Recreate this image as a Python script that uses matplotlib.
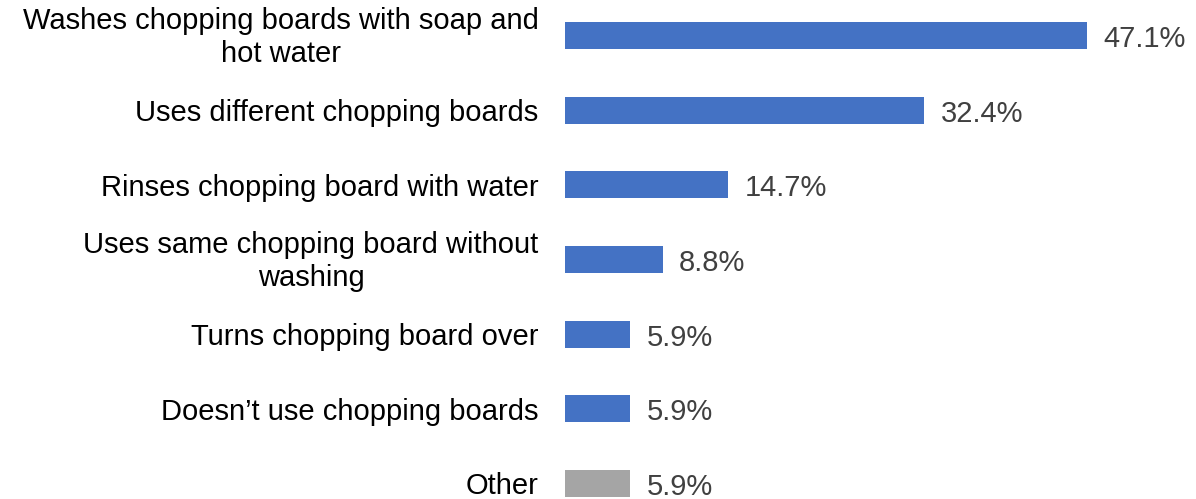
import matplotlib.pyplot as plt

plt.rcParams["font.family"] = ["Liberation Sans", "DejaVu Sans"]

# Chopping board handling practices (% of respondents)
categories = [
    "Washes chopping boards with soap and\nhot water",
    "Uses different chopping boards",
    "Rinses chopping board with water",
    "Uses same chopping board without\nwashing",
    "Turns chopping board over",
    "Doesn\u2019t use chopping boards",
    "Other",
]
values = [47.1, 32.4, 14.7, 8.8, 5.9, 5.9, 5.9]
bar_colors = ["#4472C4"] * 6 + ["#A5A5A5"]

fig = plt.figure(figsize=(11.96, 4.99), dpi=100)
ax = fig.add_axes([565 / 1196, 0.0012, 522 / 1196, 0.9726])

pos = list(range(len(categories)))
ax.barh(pos, values, height=0.36, color=bar_colors)

ax.set_xlim(0, max(values))
ax.set_ylim(6.2, -0.3)
ax.set_xticks([])
ax.set_yticks([])
for s in ax.spines.values():
    s.set_visible(False)

# category labels to the left of the bars
for y, name in zip(pos, categories):
    dy = 2.2 if "\n" in name else 0
    ax.annotate(name, xy=(0, y), xytext=(-19, dy), textcoords="offset points",
                va="center_baseline", ha="right", multialignment="center",
                fontsize=21, color="black", annotation_clip=False)

# value labels at the bar ends
for y, v in zip(pos, values):
    ax.annotate(f"{v:.1f}%", xy=(v, y), xytext=(12, -0.5), textcoords="offset points",
                va="center_baseline", ha="left", fontsize=21, color="#404040",
                annotation_clip=False)

fig.savefig("out.png", dpi=100)
